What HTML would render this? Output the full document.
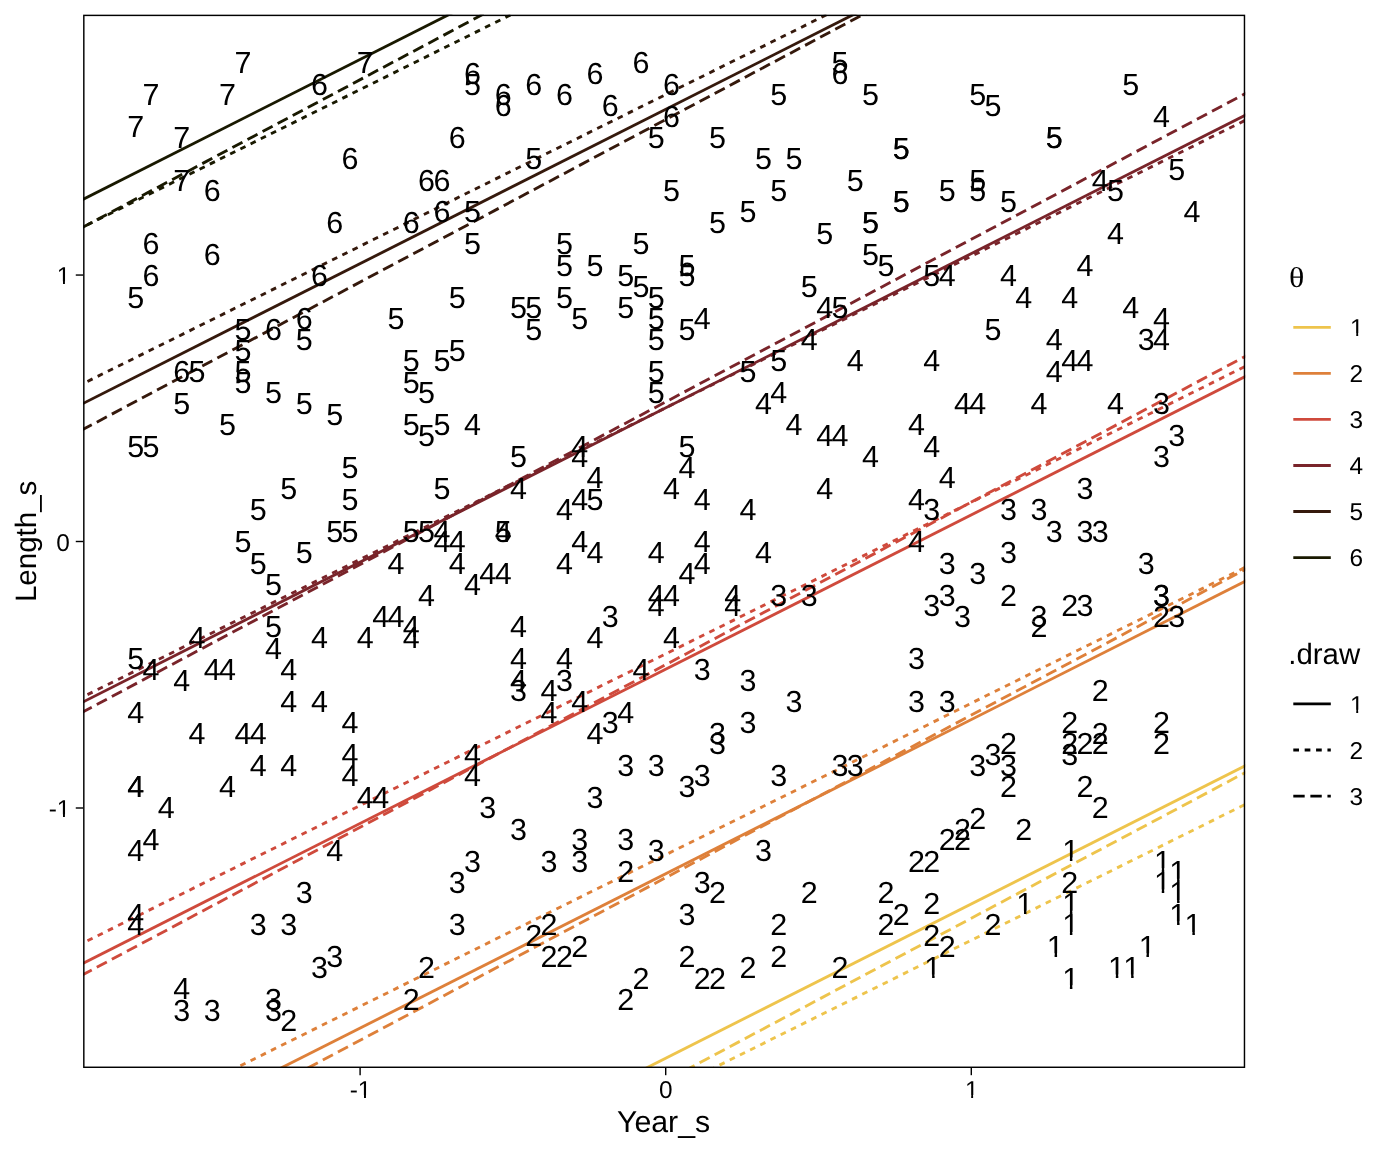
<!DOCTYPE html>
<html><head><meta charset="utf-8"><title>plot</title>
<style>html,body{margin:0;padding:0;background:#fff}svg{display:block}text{text-rendering:geometricPrecision;font-family:"Liberation Sans",sans-serif;fill:#000}.d{font-size:30.50px;text-anchor:middle}.e{font-size:30.50px;text-anchor:start}.a{font-size:24.40px}.t{font-size:30.30px}</style></head><body>
<svg width="1392" height="1152" viewBox="0 0 1392 1152">
<rect width="1392" height="1152" fill="#fff"/>
<defs><clipPath id="p"><rect x="83.1" y="14.67" width="1162.10" height="1053.33"/></clipPath><clipPath id="c1"><path d="M-6.10 -33.55H24.40V-3.38H10.26V3.05H7.77V-3.38H-6.10Z"/></clipPath><clipPath id="c2"><path d="M-4.88 -26.84H19.52V-2.92H8.19V2.44H6.24V-2.92H-4.88Z"/></clipPath></defs>
<g clip-path="url(#p)" fill="none" stroke-width="2.85">
<line x1="40.0" y1="1374.08" x2="1285.2" y2="745.51" stroke="#EEC44C"/>
<line x1="36.5" y1="1403.98" x2="1285.2" y2="784.51" stroke="#EEC44C" stroke-dasharray="5.69 5.69"/>
<line x1="36.5" y1="1415.47" x2="1285.2" y2="751.27" stroke="#EEC44C" stroke-dasharray="11.38 5.69"/>
<line x1="40.0" y1="1189.68" x2="1285.2" y2="561.11" stroke="#DE803A"/>
<line x1="36.5" y1="1166.93" x2="1285.2" y2="547.46" stroke="#DE803A" stroke-dasharray="5.69 5.69"/>
<line x1="36.5" y1="1212.37" x2="1285.2" y2="548.17" stroke="#DE803A" stroke-dasharray="11.38 5.69"/>
<line x1="40.0" y1="985.00" x2="1285.2" y2="356.43" stroke="#CF4A3C"/>
<line x1="36.5" y1="966.03" x2="1285.2" y2="346.56" stroke="#CF4A3C" stroke-dasharray="5.69 5.69"/>
<line x1="36.5" y1="999.37" x2="1285.2" y2="335.17" stroke="#CF4A3C" stroke-dasharray="11.38 5.69"/>
<line x1="40.0" y1="723.70" x2="1285.2" y2="95.13" stroke="#79242A"/>
<line x1="36.5" y1="719.93" x2="1285.2" y2="100.46" stroke="#79242A" stroke-dasharray="5.69 5.69"/>
<line x1="36.5" y1="736.57" x2="1285.2" y2="72.37" stroke="#79242A" stroke-dasharray="11.38 5.69"/>
<line x1="40.0" y1="425.21" x2="1285.2" y2="-203.37" stroke="#35190C"/>
<line x1="36.5" y1="406.71" x2="1285.2" y2="-212.76" stroke="#35190C" stroke-dasharray="5.69 5.69"/>
<line x1="36.5" y1="454.21" x2="1285.2" y2="-209.99" stroke="#35190C" stroke-dasharray="11.38 5.69"/>
<line x1="40.0" y1="221.01" x2="1285.2" y2="-407.57" stroke="#191900"/>
<line x1="36.5" y1="250.11" x2="1285.2" y2="-369.36" stroke="#191900" stroke-dasharray="5.69 5.69"/>
<line x1="36.5" y1="251.81" x2="1285.2" y2="-412.39" stroke="#191900" stroke-dasharray="11.38 5.69"/>
</g>
<g class="d">
<text x="242.87" y="73.47">7</text><text x="365.35" y="73.47">7</text><text x="151.01" y="105.39">7</text><text x="227.56" y="105.39">7</text><text x="319.42" y="94.75">6</text><text x="135.70" y="137.32">7</text><text x="181.63" y="147.96">7</text><text x="181.63" y="190.52">7</text><text x="212.25" y="201.16">6</text><text x="350.04" y="169.24">6</text><text x="426.59" y="190.52">6</text><text x="334.73" y="233.09">6</text><text x="411.28" y="233.09">6</text><text x="151.01" y="254.37">6</text><text x="212.25" y="265.01">6</text><text x="151.01" y="286.29">6</text><text x="319.42" y="286.29">6</text><text x="135.70" y="307.57">5</text><text x="472.52" y="84.11">6</text><text x="472.52" y="94.75">5</text><text x="503.14" y="105.39">6</text><text x="503.14" y="116.03">6</text><text x="533.76" y="94.75">6</text><text x="564.38" y="105.39">6</text><text x="595.00" y="84.11">6</text><text x="640.93" y="73.47">6</text><text x="671.55" y="94.75">6</text><text x="610.31" y="116.03">6</text><text x="671.55" y="126.67">6</text><text x="656.24" y="147.96">5</text><text x="717.48" y="147.96">5</text><text x="457.21" y="147.96">6</text><text x="533.76" y="169.24">5</text><text x="441.90" y="190.52">6</text><text x="441.90" y="222.44">6</text><text x="472.52" y="222.44">5</text><text x="472.52" y="254.37">5</text><text x="671.55" y="201.16">5</text><text x="717.48" y="233.09">5</text><text x="564.38" y="254.37">5</text><text x="640.93" y="254.37">5</text><text x="564.38" y="275.65">5</text><text x="595.00" y="275.65">5</text><text x="625.62" y="286.29">5</text><text x="640.93" y="296.93">5</text><text x="686.86" y="275.65">5</text><text x="686.86" y="286.29">5</text><text x="656.24" y="307.57">5</text><text x="457.21" y="307.57">5</text><text x="564.38" y="307.57">5</text><text x="839.96" y="73.47">5</text><text x="839.96" y="84.11">6</text><text x="778.72" y="105.39">5</text><text x="870.58" y="105.39">5</text><text x="977.75" y="105.39">5</text><text x="993.06" y="116.03">5</text><text x="901.20" y="158.60">5</text><text x="901.20" y="158.60">5</text><text x="763.41" y="169.24">5</text><text x="794.03" y="169.24">5</text><text x="855.27" y="190.52">5</text><text x="778.72" y="201.16">5</text><text x="947.13" y="201.16">5</text><text x="977.75" y="190.52">5</text><text x="977.75" y="201.16">5</text><text x="1008.37" y="211.80">5</text><text x="901.20" y="211.80">5</text><text x="901.20" y="211.80">5</text><text x="748.10" y="222.44">5</text><text x="870.58" y="233.09">5</text><text x="870.58" y="233.09">5</text><text x="824.65" y="243.73">5</text><text x="870.58" y="265.01">5</text><text x="885.89" y="275.65">5</text><text x="931.82" y="286.29">5</text><text x="947.13" y="286.29">4</text><text x="1008.37" y="286.29">4</text><text x="1023.68" y="307.57">4</text><text x="809.34" y="296.93">5</text><text x="1130.85" y="94.75">5</text><text x="1161.47" y="126.67">4</text><text x="1054.30" y="147.96">5</text><text x="1054.30" y="147.96">5</text><text x="1100.23" y="190.52">4</text><text x="1115.54" y="201.16">5</text><text x="1176.78" y="179.88">5</text><text x="1192.09" y="222.44">4</text><text x="1115.54" y="243.73">4</text><text x="1084.92" y="275.65">4</text><text x="1069.61" y="307.57">4</text><text x="304.11" y="328.85">6</text><text x="273.49" y="339.50">6</text><text x="242.87" y="339.50">5</text><text x="304.11" y="350.14">5</text><text x="242.87" y="360.78">5</text><text x="395.97" y="328.85">5</text><text x="181.63" y="382.06">6</text><text x="196.94" y="382.06">5</text><text x="242.87" y="382.06">5</text><text x="242.87" y="392.70">5</text><text x="411.28" y="371.42">5</text><text x="411.28" y="392.70">5</text><text x="426.59" y="403.34">5</text><text x="273.49" y="403.34">5</text><text x="181.63" y="413.98">5</text><text x="304.11" y="413.98">5</text><text x="334.73" y="424.62">5</text><text x="227.56" y="435.26">5</text><text x="411.28" y="435.26">5</text><text x="426.59" y="445.91">5</text><text x="135.70" y="456.55">5</text><text x="151.01" y="456.55">5</text><text x="350.04" y="477.83">5</text><text x="288.80" y="499.11">5</text><text x="350.04" y="509.75">5</text><text x="258.18" y="520.39">5</text><text x="334.73" y="541.67">5</text><text x="350.04" y="541.67">5</text><text x="411.28" y="541.67">5</text><text x="426.59" y="541.67">5</text><text x="242.87" y="552.32">5</text><text x="304.11" y="562.96">5</text><text x="258.18" y="573.60">5</text><text x="395.97" y="573.60">4</text><text x="518.45" y="318.21">5</text><text x="533.76" y="318.21">5</text><text x="625.62" y="318.21">5</text><text x="579.69" y="328.85">5</text><text x="656.24" y="328.85">5</text><text x="702.17" y="328.85">4</text><text x="533.76" y="339.50">5</text><text x="686.86" y="339.50">5</text><text x="656.24" y="350.14">5</text><text x="457.21" y="360.78">5</text><text x="441.90" y="371.42">5</text><text x="656.24" y="382.06">5</text><text x="656.24" y="403.34">5</text><text x="441.90" y="435.26">5</text><text x="472.52" y="435.26">4</text><text x="518.45" y="467.19">5</text><text x="579.69" y="456.55">4</text><text x="579.69" y="467.19">4</text><text x="686.86" y="456.55">5</text><text x="686.86" y="477.83">4</text><text x="595.00" y="488.47">4</text><text x="441.90" y="499.11">5</text><text x="518.45" y="499.11">4</text><text x="671.55" y="499.11">4</text><text x="579.69" y="509.75">4</text><text x="595.00" y="509.75">5</text><text x="702.17" y="509.75">4</text><text x="564.38" y="520.39">4</text><text x="441.90" y="541.67">4</text><text x="441.90" y="552.32">4</text><text x="457.21" y="552.32">4</text><text x="503.14" y="541.67">4</text><text x="503.14" y="541.67">5</text><text x="579.69" y="552.32">4</text><text x="702.17" y="552.32">4</text><text x="595.00" y="562.96">4</text><text x="656.24" y="562.96">4</text><text x="457.21" y="573.60">4</text><text x="564.38" y="573.60">4</text><text x="702.17" y="573.60">4</text><text x="824.65" y="318.21">4</text><text x="839.96" y="318.21">5</text><text x="993.06" y="339.50">5</text><text x="809.34" y="350.14">4</text><text x="855.27" y="371.42">4</text><text x="931.82" y="371.42">4</text><text x="778.72" y="371.42">5</text><text x="748.10" y="382.06">5</text><text x="778.72" y="403.34">4</text><text x="763.41" y="413.98">4</text><text x="962.44" y="413.98">4</text><text x="977.75" y="413.98">4</text><text x="794.03" y="435.26">4</text><text x="916.51" y="435.26">4</text><text x="824.65" y="445.91">4</text><text x="839.96" y="445.91">4</text><text x="931.82" y="456.55">4</text><text x="870.58" y="467.19">4</text><text x="947.13" y="488.47">4</text><text x="824.65" y="499.11">4</text><text x="916.51" y="509.75">4</text><text x="748.10" y="520.39">4</text><text x="931.82" y="520.39">3</text><text x="1008.37" y="520.39">3</text><text x="916.51" y="552.32">4</text><text x="763.41" y="562.96">4</text><text x="1008.37" y="562.96">3</text><text x="947.13" y="573.60">3</text><text x="1130.85" y="318.21">4</text><text x="1161.47" y="328.85">4</text><text x="1054.30" y="350.14">4</text><text x="1146.16" y="350.14">3</text><text x="1161.47" y="350.14">4</text><text x="1069.61" y="371.42">4</text><text x="1084.92" y="371.42">4</text><text x="1054.30" y="382.06">4</text><text x="1038.99" y="413.98">4</text><text x="1115.54" y="413.98">4</text><text x="1161.47" y="413.98">3</text><text x="1176.78" y="445.91">3</text><text x="1161.47" y="467.19">3</text><text x="1084.92" y="499.11">3</text><text x="1038.99" y="520.39">3</text><text x="1054.30" y="541.67">3</text><text x="1084.92" y="541.67">3</text><text x="1100.23" y="541.67">3</text><text x="1146.16" y="573.60">3</text><text x="273.49" y="594.88">5</text><text x="426.59" y="605.52">4</text><text x="273.49" y="637.44">5</text><text x="380.66" y="626.80">4</text><text x="395.97" y="626.80">4</text><text x="411.28" y="637.44">4</text><text x="411.28" y="648.08">4</text><text x="196.94" y="648.08">4</text><text x="319.42" y="648.08">4</text><text x="365.35" y="648.08">4</text><text x="273.49" y="658.73">4</text><text x="135.70" y="669.37">5</text><text x="151.01" y="680.01">4</text><text x="212.25" y="680.01">4</text><text x="227.56" y="680.01">4</text><text x="288.80" y="680.01">4</text><text x="181.63" y="690.65">4</text><text x="288.80" y="711.93">4</text><text x="319.42" y="711.93">4</text><text x="135.70" y="722.57">4</text><text x="350.04" y="733.21">4</text><text x="196.94" y="743.85">4</text><text x="242.87" y="743.85">4</text><text x="258.18" y="743.85">4</text><text x="350.04" y="765.13">4</text><text x="258.18" y="775.78">4</text><text x="288.80" y="775.78">4</text><text x="350.04" y="786.42">4</text><text x="135.70" y="797.06">4</text><text x="135.70" y="797.06">4</text><text x="227.56" y="797.06">4</text><text x="365.35" y="807.70">4</text><text x="380.66" y="807.70">4</text><text x="166.32" y="818.34">4</text><text x="487.83" y="584.24">4</text><text x="503.14" y="584.24">4</text><text x="686.86" y="584.24">4</text><text x="472.52" y="594.88">4</text><text x="656.24" y="605.52">4</text><text x="671.55" y="605.52">4</text><text x="656.24" y="616.16">4</text><text x="610.31" y="626.80">3</text><text x="518.45" y="637.44">4</text><text x="595.00" y="648.08">4</text><text x="671.55" y="648.08">4</text><text x="518.45" y="669.37">4</text><text x="564.38" y="669.37">4</text><text x="640.93" y="680.01">4</text><text x="702.17" y="680.01">3</text><text x="518.45" y="690.65">4</text><text x="564.38" y="690.65">3</text><text x="518.45" y="701.29">3</text><text x="549.07" y="701.29">4</text><text x="579.69" y="711.93">4</text><text x="549.07" y="722.57">4</text><text x="625.62" y="722.57">4</text><text x="610.31" y="733.21">3</text><text x="595.00" y="743.85">4</text><text x="717.48" y="743.85">3</text><text x="717.48" y="754.49">3</text><text x="472.52" y="765.13">4</text><text x="625.62" y="775.78">3</text><text x="656.24" y="775.78">3</text><text x="472.52" y="786.42">4</text><text x="702.17" y="786.42">3</text><text x="686.86" y="797.06">3</text><text x="595.00" y="807.70">3</text><text x="487.83" y="818.34">3</text><text x="977.75" y="584.24">3</text><text x="732.79" y="605.52">4</text><text x="732.79" y="616.16">4</text><text x="778.72" y="605.52">3</text><text x="809.34" y="605.52">3</text><text x="947.13" y="605.52">3</text><text x="1008.37" y="605.52">2</text><text x="931.82" y="616.16">3</text><text x="962.44" y="626.80">3</text><text x="916.51" y="669.37">3</text><text x="748.10" y="690.65">3</text><text x="794.03" y="711.93">3</text><text x="916.51" y="711.93">3</text><text x="947.13" y="711.93">3</text><text x="748.10" y="733.21">3</text><text x="1008.37" y="754.49">2</text><text x="993.06" y="765.13">3</text><text x="977.75" y="775.78">3</text><text x="1008.37" y="775.78">3</text><text x="839.96" y="775.78">3</text><text x="855.27" y="775.78">3</text><text x="778.72" y="786.42">3</text><text x="1008.37" y="797.06">2</text><text x="977.75" y="828.98">2</text><text x="1161.47" y="605.52">3</text><text x="1069.61" y="616.16">2</text><text x="1084.92" y="616.16">3</text><text x="1038.99" y="626.80">3</text><text x="1038.99" y="637.44">2</text><text x="1161.47" y="626.80">2</text><text x="1176.78" y="626.80">3</text><text x="1100.23" y="701.29">2</text><text x="1069.61" y="733.21">2</text><text x="1161.47" y="733.21">2</text><text x="1100.23" y="743.85">2</text><text x="1069.61" y="754.49">2</text><text x="1084.92" y="754.49">2</text><text x="1100.23" y="754.49">2</text><text x="1161.47" y="754.49">2</text><text x="1069.61" y="765.13">3</text><text x="1084.92" y="797.06">2</text><text x="1100.23" y="818.34">2</text><text x="151.01" y="850.26">4</text><text x="135.70" y="860.90">4</text><text x="334.73" y="860.90">4</text><text x="304.11" y="903.47">3</text><text x="135.70" y="924.75">4</text><text x="135.70" y="935.39">4</text><text x="258.18" y="935.39">3</text><text x="288.80" y="935.39">3</text><text x="334.73" y="967.31">3</text><text x="319.42" y="977.96">3</text><text x="426.59" y="977.96">2</text><text x="181.63" y="999.24">4</text><text x="411.28" y="1009.88">2</text><text x="181.63" y="1020.52">3</text><text x="212.25" y="1020.52">3</text><text x="273.49" y="1009.88">3</text><text x="273.49" y="1020.52">3</text><text x="288.80" y="1031.16">2</text><text x="518.45" y="839.62">3</text><text x="579.69" y="850.26">3</text><text x="625.62" y="850.26">3</text><text x="656.24" y="860.90">3</text><text x="472.52" y="871.55">3</text><text x="549.07" y="871.55">3</text><text x="579.69" y="871.55">3</text><text x="625.62" y="882.19">2</text><text x="457.21" y="892.83">3</text><text x="702.17" y="892.83">3</text><text x="717.48" y="903.47">2</text><text x="686.86" y="924.75">3</text><text x="457.21" y="935.39">3</text><text x="549.07" y="935.39">2</text><text x="533.76" y="946.03">2</text><text x="579.69" y="956.67">2</text><text x="549.07" y="967.31">2</text><text x="564.38" y="967.31">2</text><text x="686.86" y="967.31">2</text><text x="702.17" y="988.60">2</text><text x="717.48" y="988.60">2</text><text x="640.93" y="988.60">2</text><text x="625.62" y="1009.88">2</text><text x="763.41" y="860.90">3</text><text x="809.34" y="903.47">2</text><text x="778.72" y="935.39">2</text><text x="778.72" y="967.31">2</text><text x="748.10" y="977.96">2</text><text x="839.96" y="977.96">2</text><text x="885.89" y="903.47">2</text><text x="901.20" y="924.75">2</text><text x="885.89" y="935.39">2</text><text x="931.82" y="914.11">2</text><text x="931.82" y="946.03">2</text><text x="947.13" y="956.67">2</text><g transform="translate(924.34,977.96)" clip-path="url(#c1)"><text class="e">1</text></g><text x="993.06" y="935.39">2</text><text x="916.51" y="871.55">2</text><text x="931.82" y="871.55">2</text><text x="947.13" y="850.26">2</text><text x="962.44" y="850.26">2</text><text x="962.44" y="839.62">2</text><text x="1023.68" y="839.62">2</text><g transform="translate(1062.13,860.90)" clip-path="url(#c1)"><text class="e">1</text></g><text x="1069.61" y="892.83">2</text><g transform="translate(1062.13,914.11)" clip-path="url(#c1)"><text class="e">1</text></g><g transform="translate(1062.13,935.39)" clip-path="url(#c1)"><text class="e">1</text></g><g transform="translate(1016.20,914.11)" clip-path="url(#c1)"><text class="e">1</text></g><g transform="translate(1046.82,956.67)" clip-path="url(#c1)"><text class="e">1</text></g><g transform="translate(1062.13,988.60)" clip-path="url(#c1)"><text class="e">1</text></g><g transform="translate(1108.06,977.96)" clip-path="url(#c1)"><text class="e">1</text></g><g transform="translate(1123.37,977.96)" clip-path="url(#c1)"><text class="e">1</text></g><g transform="translate(1138.68,956.67)" clip-path="url(#c1)"><text class="e">1</text></g><g transform="translate(1153.99,871.55)" clip-path="url(#c1)"><text class="e">1</text></g><g transform="translate(1153.99,892.83)" clip-path="url(#c1)"><text class="e">1</text></g><g transform="translate(1169.30,882.19)" clip-path="url(#c1)"><text class="e">1</text></g><g transform="translate(1169.30,903.47)" clip-path="url(#c1)"><text class="e">1</text></g><g transform="translate(1169.30,924.75)" clip-path="url(#c1)"><text class="e">1</text></g><g transform="translate(1184.61,935.39)" clip-path="url(#c1)"><text class="e">1</text></g><text x="1161.47" y="605.52">3</text>
</g>
<rect x="83.82" y="15.39" width="1160.65" height="1051.88" fill="none" stroke="#000" stroke-width="1.45"/>
<g stroke="#000" stroke-width="1.42">
<line x1="360.1" y1="1068.0" x2="360.1" y2="1075.20"/><line x1="665.7" y1="1068.0" x2="665.7" y2="1075.20"/><line x1="971.3" y1="1068.0" x2="971.3" y2="1075.20"/><line x1="75.77" y1="275.05" x2="83.1" y2="275.05"/><line x1="75.77" y1="541.5" x2="83.1" y2="541.5"/><line x1="75.77" y1="808.0" x2="83.1" y2="808.0"/>
</g>
<g class="a">
<g transform="translate(357.78,1097.90)" clip-path="url(#c2)"><text class="a">1</text></g><text x="357.88" y="1097.90" text-anchor="end">-</text><text x="672.48" y="1097.90" text-anchor="end">0</text><g transform="translate(964.92,1097.90)" clip-path="url(#c2)"><text class="a">1</text></g><g transform="translate(56.73,284.20)" clip-path="url(#c2)"><text class="a">1</text></g><text x="69.90" y="550.65" text-anchor="end">0</text><g transform="translate(56.73,817.15)" clip-path="url(#c2)"><text class="a">1</text></g><text x="56.83" y="817.15" text-anchor="end">-</text>
</g>
<text class="t" x="663.6" y="1131.6" text-anchor="middle">Year_s</text>
<text class="t" style="font-size:29.5px" transform="translate(35.5,541.4) rotate(-90)" text-anchor="middle">Length_s</text>
<text transform="translate(1289,287.3) scale(1.09,0.98)" style="font-family:'Liberation Serif','DejaVu Serif',serif;font-size:29.33px">θ</text>
<g stroke-width="2.85">
<line x1="1293.3" y1="327.3" x2="1330.8" y2="327.3" stroke="#EEC44C"/><line x1="1293.3" y1="373.35" x2="1330.8" y2="373.35" stroke="#DE803A"/><line x1="1293.3" y1="419.4" x2="1330.8" y2="419.4" stroke="#CF4A3C"/><line x1="1293.3" y1="465.45" x2="1330.8" y2="465.45" stroke="#79242A"/><line x1="1293.3" y1="511.5" x2="1330.8" y2="511.5" stroke="#35190C"/><line x1="1293.3" y1="557.55" x2="1330.8" y2="557.55" stroke="#191900"/>
</g>
<g class="a">
<g transform="translate(1350.00,336.05)" clip-path="url(#c2)"><text class="a">1</text></g><text x="1363.17" y="382.10" text-anchor="end">2</text><text x="1363.17" y="428.15" text-anchor="end">3</text><text x="1363.17" y="474.20" text-anchor="end">4</text><text x="1363.17" y="520.25" text-anchor="end">5</text><text x="1363.17" y="566.30" text-anchor="end">6</text>
</g>
<text class="t" style="font-size:29.4px" x="1288.3" y="663.8">.draw</text>
<g stroke="#000" stroke-width="2.85">
<line x1="1293.3" y1="703.9" x2="1330.8" y2="703.9"/><line x1="1293.3" y1="750.0" x2="1330.8" y2="750.0" stroke-dasharray="5.69 5.69"/><line x1="1293.3" y1="796.05" x2="1330.8" y2="796.05" stroke-dasharray="11.38 5.69"/>
</g>
<g class="a">
<g transform="translate(1350.00,712.65)" clip-path="url(#c2)"><text class="a">1</text></g><text x="1363.17" y="758.75" text-anchor="end">2</text><text x="1363.17" y="804.80" text-anchor="end">3</text>
</g>
</svg>
</body></html>
